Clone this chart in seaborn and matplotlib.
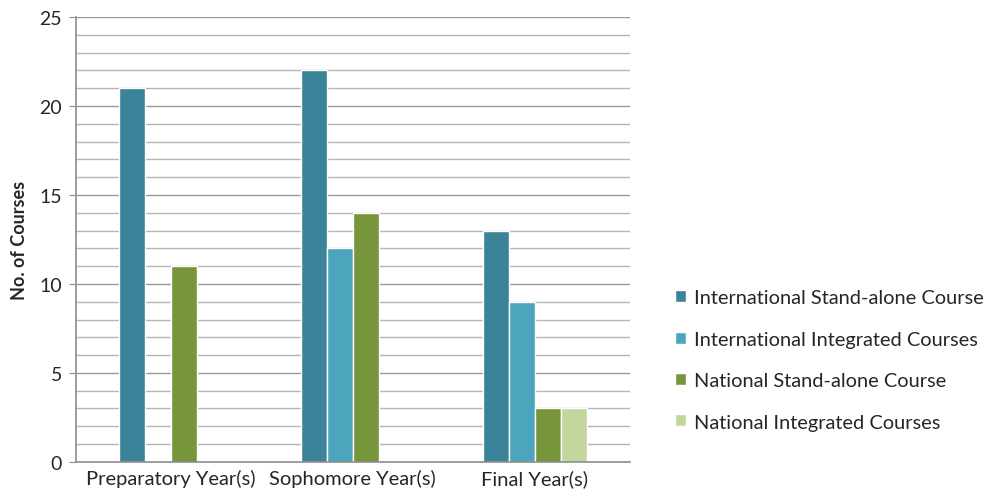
import pandas as pd
import numpy as np
import matplotlib.pyplot as plt
import seaborn as sns

# ---------------------------------------------------------
# DATA
# ---------------------------------------------------------

years = ["Preparatory Year(s)", "Sophomore Year(s)", "Final Year(s)"]
course_types = [
    "International Stand-alone Course",
    "International Integrated Courses",
    "National Stand-alone Course",
    "National Integrated Courses",
]

# one list per course type, values per year (None = no bar)
intl_standalone = [21, 22, 13]
intl_integrated = [None, 12, 9]
natl_standalone = [11, 14, 3]
natl_integrated = [None, None, 3]

colors = ["#3A8399", "#4BA5BC", "#77953A", "#C3D69B"]

# ---------------------------------------------------------
# PLOT
# ---------------------------------------------------------

rows = []
for ctype, vals in zip(course_types, [intl_standalone, intl_integrated,
                                      natl_standalone, natl_integrated]):
    for yr, v in zip(years, vals):
        rows.append({"Year": yr, "Type": ctype, "Courses": v})
df = pd.DataFrame(rows).dropna()

sns.set_style("white")
plt.rcParams["font.family"] = ["Lato", "DejaVu Sans"]

fig = plt.figure(figsize=(9.92, 5.02), dpi=100)
ax = fig.add_axes([0.0766, 0.078, 0.558, 0.886])

# gridlines every course, drawn under the bars
ax.set_axisbelow(True)
for yv in range(1, 26):
    ax.axhline(yv, color="#B5B5B5" if yv % 5 else "#9A9A9A", lw=1.0, zorder=0)

sns.barplot(
    data=df, x="Year", y="Courses", hue="Type",
    order=years, hue_order=course_types, palette=colors,
    width=0.57, edgecolor="white", linewidth=1.0, saturation=1,
    ax=ax, legend=True,
)

ax.set_ylim(0, 25)
ax.set_xlim(-0.52, 2.52)
ax.set_yticks(range(0, 26, 5))
ax.set_xlabel("")
ax.set_ylabel("No. of Courses", fontsize=13, fontweight="bold", labelpad=8)
ax.tick_params(axis="y", labelsize=14, length=5, color="#8C8C8C", direction="out", left=True, pad=5)
ax.tick_params(axis="x", labelsize=14.5, length=0, pad=5)

for side in ["top", "right"]:
    ax.spines[side].set_visible(False)
for side in ["left", "bottom"]:
    ax.spines[side].set_color("#8C8C8C")
    ax.spines[side].set_linewidth(1.2)

handles, labels = ax.get_legend_handles_labels()
ax.get_legend().remove()
fig.legend(
    handles, labels, loc="center left", bbox_to_anchor=(0.672, 0.281),
    frameon=False, fontsize=14.4, handlelength=0.55, handleheight=0.55,
    handletextpad=0.4, labelspacing=1.22, borderaxespad=0,
)

fig.savefig("out.png", dpi=100)
